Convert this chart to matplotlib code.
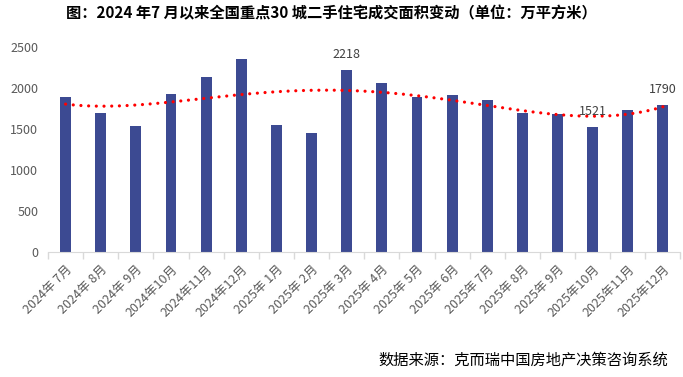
import matplotlib
matplotlib.use("Agg")
import matplotlib.pyplot as plt
import numpy as np

plt.rcParams['font.family'] = ['Noto Sans CJK SC', 'DejaVu Sans']

months = ["2024年 7月", "2024年 8月", "2024年 9月", "2024年10月", "2024年11月", "2024年12月",
          "2025年 1月", "2025年 2月", "2025年 3月", "2025年 4月", "2025年 5月", "2025年 6月",
          "2025年 7月", "2025年 8月", "2025年 9月", "2025年10月", "2025年11月", "2025年12月"]
values = [1890, 1695, 1537, 1927, 2134, 2354, 1549, 1451, 2218, 2061, 1890, 1915,
          1854, 1695, 1683, 1521, 1732, 1790]
labeled_idx = [8, 15, 17]
yticks = [0, 500, 1000, 1500, 2000, 2500]
title = "图：2024 年7 月以来全国重点30 城二手住宅成交面积变动（单位：万平方米）"
source = "数据来源：克而瑞中国房地产决策咨询系统"

fig = plt.figure(figsize=(6.83, 3.77), dpi=100)
ax = fig.add_axes([0.0703, 0.3316, 0.926, 0.5437])

x = np.arange(len(months))
ax.bar(x, values, width=0.31, color="#3c4a92", zorder=2)

# polynomial trend line (Excel-like)
coef = np.polyfit(x, values, 4)
xs = np.linspace(0, len(months) - 1, 400)
ax.plot(xs, np.polyval(coef, xs), color="#ff0000", lw=2.3,
        linestyle=(0, (0.01, 2.4)), dash_capstyle="round", zorder=3)

for i in labeled_idx:
    ax.annotate(str(values[i]), (i, values[i]), xytext=(0, 11.5),
                textcoords="offset points", ha="center", va="center",
                fontsize=9, color="#404040")

ax.set_xlim(-0.5, len(months) - 0.5)
ax.set_ylim(0, 2500)
ax.set_yticks(yticks)
ax.set_yticklabels([str(v) for v in yticks], fontsize=9, color="#595959")
ax.tick_params(axis="y", length=0, pad=7)

ax.set_xticks(x)
ax.set_xticklabels(months, rotation=45, ha="right", rotation_mode="anchor",
                   fontsize=9, color="#595959")
ax.tick_params(axis="x", length=0, pad=8)
ax.set_xticks(np.arange(-0.5, len(months), 1), minor=True)
ax.tick_params(axis="x", which="minor", length=5, color="#d9d9d9", width=1)

for s in ["top", "right", "left"]:
    ax.spines[s].set_visible(False)
ax.spines["bottom"].set_color("#d9d9d9")

fig.text(0.485, 0.965, title, ha="center", va="center", fontsize=11,
         fontweight="bold", color="#000000")
fig.text(0.978, 0.045, source, ha="right", va="center", fontsize=11,
         color="#000000")

fig.savefig("out.png", dpi=100)
